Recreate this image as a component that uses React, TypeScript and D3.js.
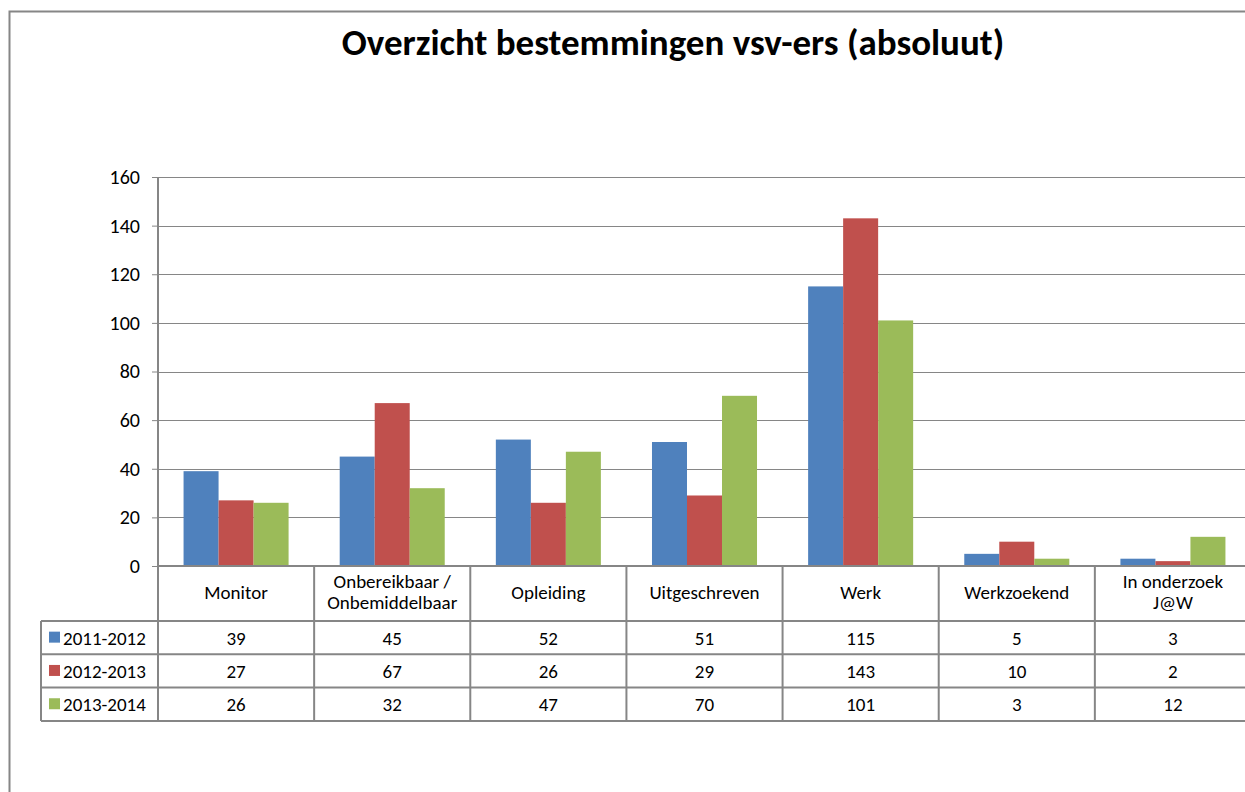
import { useEffect, useRef } from 'react'
import * as d3 from 'd3'

const categories = ['Monitor', 'Onbereikbaar / Onbemiddelbaar', 'Opleiding', 'Uitgeschreven', 'Werk', 'Werkzoekend', 'In onderzoek J@W']
const categoryLines = [['Monitor'], ['Onbereikbaar /', 'Onbemiddelbaar'], ['Opleiding'], ['Uitgeschreven'], ['Werk'], ['Werkzoekend'], ['In onderzoek', 'J@W']]
const seriesNames = ['2011-2012', '2012-2013', '2013-2014']
const seriesColors = ['#4F81BD', '#C0504D', '#9BBB59']
const values2011 = [39, 45, 52, 51, 115, 5, 3]
const values2012 = [27, 67, 26, 29, 143, 10, 2]
const values2013 = [26, 32, 47, 70, 101, 3, 12]
const yTicks = [0, 20, 40, 60, 80, 100, 120, 140, 160]

const W = 1245
const H = 792
const FONT = 'Carlito, Lato, "Open Sans", sans-serif'

export default function App() {
  const ref = useRef<SVGSVGElement>(null)

  useEffect(() => {
    if (!ref.current) return
    const svg = d3.select(ref.current)
    svg.selectAll('*').remove()

    const series = [values2011, values2012, values2013]
    const left = 158
    const right = 1251
    const top = 177
    const zero = 566
    const rowH = 33.3
    const labelRowBottom = 621
    const tableLeft = 41
    const grid = '#868686'

    // outer frame
    svg.append('rect')
      .attr('x', 9.5).attr('y', 11.5)
      .attr('width', W + 20).attr('height', H + 20)
      .attr('fill', 'none').attr('stroke', grid).attr('stroke-width', 2)

    svg.append('text')
      .attr('x', 673).attr('y', 55)
      .attr('text-anchor', 'middle')
      .attr('font-family', FONT).attr('font-weight', 'bold').attr('font-size', 37)
      .text('Overzicht bestemmingen vsv-ers (absoluut)')

    const x = d3.scaleBand().domain(categories).range([left, right])
    const xs = d3.scaleBand().domain(seriesNames).range([0, x.bandwidth()]).paddingOuter(0.73).paddingInner(0)
    const y = d3.scaleLinear().domain([0, 160]).range([zero, top])

    // gridlines
    svg.append('g').selectAll('line')
      .data(yTicks.filter(t => t > 0))
      .join('line')
      .attr('x1', left).attr('x2', right)
      .attr('y1', d => Math.round(y(d)) + 0.5).attr('y2', d => Math.round(y(d)) + 0.5)
      .attr('stroke', grid).attr('stroke-width', 1)

    // y axis
    const yAxis = svg.append('g').attr('transform', `translate(${left},0)`)
      .call(d3.axisLeft(y).tickValues(yTicks).tickSize(6).tickPadding(12))
    yAxis.select('.domain').attr('stroke', grid)
    yAxis.selectAll('.tick line').attr('stroke', grid)
    yAxis.selectAll('.tick text').attr('font-family', FONT).attr('font-size', 20).attr('fill', '#000')

    // bars
    series.forEach((vals, si) => {
      svg.append('g').selectAll('rect')
        .data(vals)
        .join('rect')
        .attr('x', (d, i) => x(categories[i])! + xs(seriesNames[si])!)
        .attr('width', xs.bandwidth())
        .attr('y', d => y(d))
        .attr('height', d => zero - y(d))
        .attr('fill', seriesColors[si])
    })

    // axis line / table
    const tableBottom = labelRowBottom + rowH * 3
    const t = svg.append('g').attr('stroke', grid).attr('stroke-width', 2)
    t.append('line').attr('x1', left).attr('x2', right).attr('y1', zero).attr('y2', zero)
    for (let r = 0; r <= 3; r++) {
      const yy = labelRowBottom + r * rowH
      t.append('line').attr('x1', tableLeft).attr('x2', right).attr('y1', yy).attr('y2', yy)
    }
    t.append('line').attr('x1', tableLeft).attr('x2', tableLeft).attr('y1', labelRowBottom).attr('y2', tableBottom)
    categories.forEach((c, i) => {
      const xx = x(c)!
      t.append('line').attr('x1', xx).attr('x2', xx).attr('y1', i === 0 ? top : zero).attr('y2', tableBottom)
    })

    // category labels
    categoryLines.forEach((lines, i) => {
      const cx = x(categories[i])! + x.bandwidth() / 2
      const startY = lines.length === 1 ? 599 : 588
      lines.forEach((ln, li) => {
        svg.append('text')
          .attr('x', cx).attr('y', startY + li * 21)
          .attr('text-anchor', 'middle')
          .attr('font-family', FONT).attr('font-size', 19)
          .text(ln)
      })
    })

    // table rows
    series.forEach((vals, si) => {
      const cy = labelRowBottom + si * rowH + rowH / 2 + 7
      svg.append('rect')
        .attr('x', 49).attr('y', cy - 13)
        .attr('width', 11).attr('height', 11)
        .attr('fill', seriesColors[si])
      svg.append('text')
        .attr('x', 63).attr('y', cy)
        .attr('font-family', FONT).attr('font-size', 19)
        .text(seriesNames[si])
      svg.append('g').selectAll('text')
        .data(vals)
        .join('text')
        .attr('x', (d, i) => x(categories[i])! + x.bandwidth() / 2)
        .attr('y', cy)
        .attr('text-anchor', 'middle')
        .attr('font-family', FONT).attr('font-size', 19)
        .text(d => d)
    })
  }, [])

  return (
    <svg ref={ref} width={W} height={H} style={{ position: 'absolute', left: 0, top: 0, background: '#fff' }} />
  )
}
